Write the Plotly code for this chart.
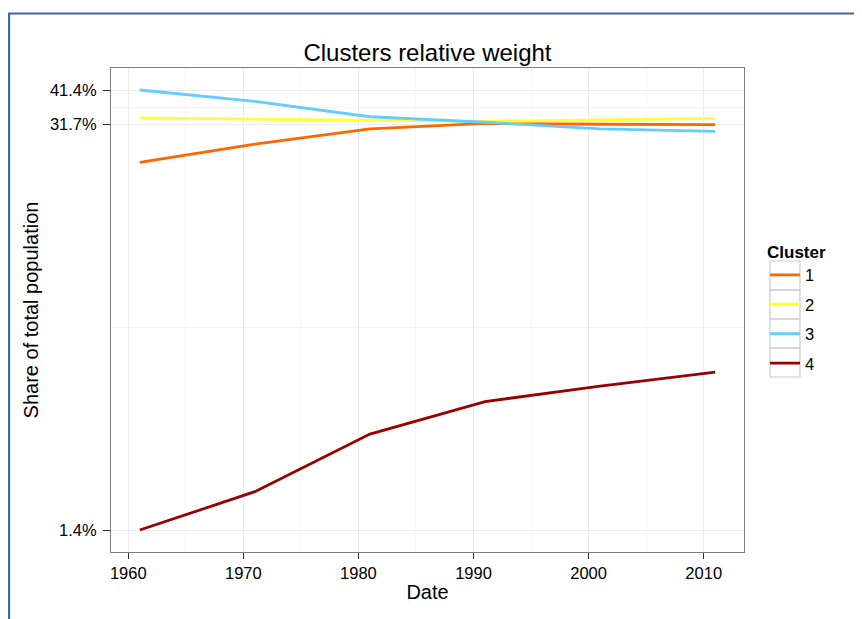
import math
import plotly.graph_objects as go

years = [1961, 1971, 1981, 1991, 2001, 2011]
cluster_names = ["1", "2", "3", "4"]
cluster1 = [23.7, 27.3, 30.7, 32.0, 31.8, 31.7]
cluster2 = [33.4, 33.1, 32.7, 32.5, 32.9, 33.3]
cluster3 = [41.4, 37.9, 33.7, 32.3, 30.7, 30.1]
cluster4 = [1.4, 1.88, 2.93, 3.76, 4.24, 4.72]
colors = ["#FF6600", "#FFFF33", "#66CCFF", "#990000"]

y_tickvals = [1.4, 31.7, 41.4]
y_ticktext = ["1.4%", "31.7%", "41.4%"]
y_minor = [6.66, 36.23]
x_tickvals = [1960, 1970, 1980, 1990, 2000, 2010]

FONT = "Liberation Sans, Arial, Helvetica, sans-serif"

fig = go.Figure()
for name, vals, col in zip(cluster_names, [cluster1, cluster2, cluster3, cluster4], colors):
    fig.add_trace(go.Scatter(x=years, y=vals, mode="lines", name=name,
                             legendgroup=name,
                             line=dict(color=col, width=2.8)))

W, H = 862, 619
OFF = 8  # page body margin
# plot area in page pixels
PL, PR, PT, PB = 111, 744, 68, 552
L, R, T, B = PL - OFF, PR - OFF, PT - OFF, PB - OFF
pw, ph = R - L, B - T


def px(xpage):
    return (xpage - OFF - L) / pw


def py(ypage):
    return (B - (ypage - OFF)) / ph


lo, hi = math.log10(min(cluster4)), math.log10(max(cluster3))
pad = 0.05 * (hi - lo)

shapes = []
# outer blue frame (screenshot border)
shapes.append(dict(type="line", xref="paper", yref="paper", x0=px(9), x1=px(9), y0=py(13), y1=py(660),
                   line=dict(color="#3e66a6", width=2.2)))
shapes.append(dict(type="line", xref="paper", yref="paper", x0=px(8), x1=px(900), y0=py(13.5), y1=py(13.5),
                   line=dict(color="#3e66a6", width=2.2)))
# legend key boxes
box_top = 261
for i in range(4):
    shapes.append(dict(type="rect", xref="paper", yref="paper", x0=px(770), x1=px(800),
                       y0=py(box_top + 29 * i), y1=py(box_top + 29 * (i + 1)),
                       line=dict(color="#cccccc", width=1.2), fillcolor="rgba(0,0,0,0)", layer="below"))

fig.update_layout(
    width=W, height=H,
    margin=dict(l=L, r=W - R, t=T, b=H - B, autoexpand=False),
    paper_bgcolor="white", plot_bgcolor="white",
    font=dict(family=FONT, color="#000000"),
    title=dict(text="Clusters relative weight", x=px(427.5), xref="paper", xanchor="center",
               y=1 - (53 - OFF) / H, yanchor="middle", font=dict(size=24, color="#000")),
    showlegend=True,
    legend=dict(title=dict(text="<b>Cluster</b>", font=dict(size=17)),
                font=dict(size=16.5), x=px(765), xanchor="left", y=py(235.5), yanchor="top",
                tracegroupgap=5, bgcolor="rgba(0,0,0,0)", itemwidth=30),
    shapes=shapes,
)

fig.update_xaxes(
    range=[1958.5, 2013.5], tickmode="array", tickvals=x_tickvals,
    ticks="outside", ticklen=6, tickcolor="#333333", tickwidth=1,
    tickfont=dict(size=16.5, color="#000"),
    showgrid=True, gridcolor="#ebebeb", gridwidth=1,
    minor=dict(dtick=5, tick0=1965, showgrid=True, gridcolor="#f6f6f6", gridwidth=1, ticks=""),
    showline=True, linecolor="#7f7f7f", linewidth=1, mirror=True, zeroline=False,
    title=dict(text="Date", font=dict(size=20), standoff=4),
)
fig.update_yaxes(
    type="log", range=[lo - pad, hi + pad], tickmode="array",
    tickvals=y_tickvals, ticktext=y_ticktext,
    ticks="outside", ticklen=7, tickcolor="#333333", tickwidth=1, ticklabelstandoff=3,
    tickfont=dict(size=16.5, color="#000"),
    showgrid=True, gridcolor="#ebebeb", gridwidth=1,
    minor=dict(tickmode="array", tickvals=y_minor, showgrid=True, gridcolor="#f6f6f6", gridwidth=1, ticks=""),
    showline=True, linecolor="#7f7f7f", linewidth=1, mirror=True, zeroline=False,
    title=dict(text="Share of total population", font=dict(size=20), standoff=5),
)

fig.write_html("out.html")
